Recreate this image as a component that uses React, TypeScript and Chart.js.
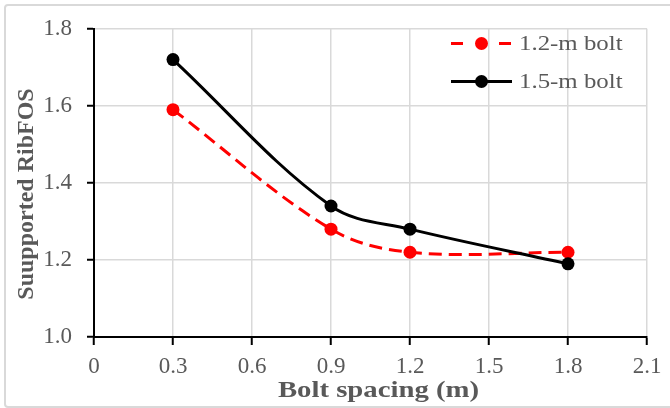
import React, { useEffect, useRef } from 'react';
import { Chart, registerables } from 'chart.js';
Chart.register(...registerables);

const spacing = [0.3, 0.9, 1.2, 1.8];
const bolt12 = [1.59, 1.28, 1.22, 1.22];
const bolt15 = [1.72, 1.34, 1.28, 1.19];
const seriesNames = ['1.2-m bolt', '1.5-m bolt'];
const xTicks = [0, 0.3, 0.6, 0.9, 1.2, 1.5, 1.8, 2.1];
const xTickLabels = ['0', '0.3', '0.6', '0.9', '1.2', '1.5', '1.8', '2.1'];
const yTicks = [1.0, 1.2, 1.4, 1.6, 1.8];
const yTickLabels = ['1.0', '1.2', '1.4', '1.6', '1.8'];
const xTitle = 'Bolt spacing (m)';
const yTitle = 'Suupported RibFOS';

const SERIF = '"Liberation Serif", "Times New Roman", serif';
const GRAY = '#595959';

const overlayPlugin = {
  id: 'overlay',
  afterDraw(chart: any) {
    const ctx = chart.ctx as CanvasRenderingContext2D;
    // legend
    chart.data.datasets.forEach((ds: any, i: number) => {
      const y = 43.5 + i * 38;
      ctx.save();
      ctx.strokeStyle = ds.borderColor;
      ctx.lineWidth = ds.borderWidth;
      if (ds.borderDash && ds.borderDash.length) ctx.setLineDash([12, 36]);
      ctx.beginPath();
      ctx.moveTo(451, y);
      ctx.lineTo(512, y);
      ctx.stroke();
      ctx.setLineDash([]);
      ctx.fillStyle = ds.pointBackgroundColor;
      ctx.beginPath();
      ctx.arc(481.5, y, ds.pointRadius, 0, Math.PI * 2);
      ctx.fill();
      ctx.fillStyle = GRAY;
      ctx.font = `22px ${SERIF}`;
      ctx.textBaseline = 'middle';
      ctx.textAlign = 'left';
      ctx.translate(519, y + 1);
      ctx.scale(1.13, 1);
      ctx.fillText(ds.label, 0, 0);
      ctx.restore();
    });
    // x title
    ctx.save();
    ctx.fillStyle = GRAY;
    ctx.font = `bold 23px ${SERIF}`;
    ctx.textAlign = 'center';
    ctx.textBaseline = 'alphabetic';
    ctx.translate(378.5, 397);
    ctx.scale(1.25, 1);
    ctx.fillText(xTitle, 0, 0);
    ctx.restore();
    // y title
    ctx.save();
    ctx.fillStyle = GRAY;
    ctx.font = `bold 24px ${SERIF}`;
    ctx.textAlign = 'center';
    ctx.textBaseline = 'alphabetic';
    ctx.translate(32.7, 194);
    ctx.rotate(-Math.PI / 2);
    ctx.fillText(yTitle, 0, 0);
    ctx.restore();
  },
};

export default function App() {
  const ref = useRef<HTMLCanvasElement | null>(null);
  useEffect(() => {
    if (!ref.current) return;
    const chart = new Chart(ref.current, {
      type: 'line',
      data: {
        datasets: [
          {
            label: seriesNames[0],
            data: spacing.map((x, i) => ({ x, y: bolt12[i] })),
            borderColor: '#ff0000',
            backgroundColor: '#ff0000',
            pointBackgroundColor: '#ff0000',
            pointBorderColor: '#ff0000',
            borderWidth: 3,
            borderDash: [13, 7],
            pointRadius: 6.5,
            pointBorderWidth: 0,
            tension: 0.35,
            order: 1,
          },
          {
            label: seriesNames[1],
            data: spacing.map((x, i) => ({ x, y: bolt15[i] })),
            borderColor: '#000000',
            backgroundColor: '#000000',
            pointBackgroundColor: '#000000',
            pointBorderColor: '#000000',
            borderWidth: 3,
            borderDash: [],
            pointRadius: 6.5,
            pointBorderWidth: 0,
            tension: 0.35,
            order: 0,
          },
        ],
      },
      options: {
        animation: false,
        responsive: false,
        maintainAspectRatio: false,
        layout: { padding: { left: 0, top: 25, right: 23, bottom: 0 } },
        plugins: { legend: { display: false }, tooltip: { enabled: false } },
        scales: {
          x: {
            type: 'linear',
            min: 0,
            max: 2.1,
            afterBuildTicks: (s: any) => {
              s.ticks = xTicks.map((v) => ({ value: v }));
            },
            afterFit: (s: any) => {
              s.height = 71;
            },
            ticks: {
              callback: (_v: any, i: number) => xTickLabels[i],
              font: { family: SERIF, size: 23 },
              color: GRAY,
              padding: 8,
              maxRotation: 0,
              autoSkip: false,
            },
            grid: { color: '#d9d9d9', lineWidth: 1.5, tickColor: '#000000', tickLength: 8, tickWidth: 2 },
            border: { display: true, color: '#000000', width: 2 },
          },
          y: {
            type: 'linear',
            min: 1.0,
            max: 1.8,
            afterBuildTicks: (s: any) => {
              s.ticks = yTicks.map((v) => ({ value: v }));
            },
            afterFit: (s: any) => {
              s.width = 94;
            },
            ticks: {
              callback: (_v: any, i: number) => yTickLabels[i],
              font: { family: SERIF, size: 23 },
              color: GRAY,
              padding: 15,
            },
            grid: { color: '#d9d9d9', lineWidth: 1.5, tickColor: '#000000', tickLength: 7, tickWidth: 2 },
            border: { display: true, color: '#000000', width: 2 },
          },
        },
      },
      plugins: [overlayPlugin],
    } as any);
    return () => chart.destroy();
  }, []);
  return (
    <div style={{ position: 'fixed', left: 0, top: 0, width: 670, height: 408, overflow: 'hidden', background: '#ffffff' }}>
      <div style={{ position: 'absolute', left: 4, top: 4, width: 700, height: 400, border: '2px solid #d9d9d9', borderRadius: 4 }} />
      <canvas ref={ref} width={670} height={408} style={{ position: 'absolute', left: 0, top: 0, width: 670, height: 408 }} />
    </div>
  );
}
